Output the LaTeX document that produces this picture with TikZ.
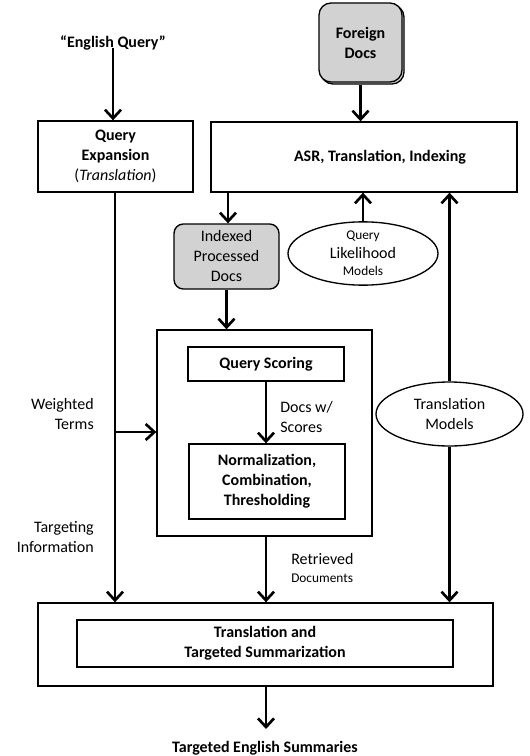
\documentclass[tikz,border=0pt]{standalone}
\usepackage{fontspec}
\setmainfont{Carlito}
\usetikzlibrary{arrows.meta,shapes.geometric}
\newcommand\pxu{0.75pt}
\tikzset{
  base/.style={font=\fontsize{12}{15}\selectfont, align=center, inner sep=0pt},
  box/.style={base, draw, line width=1pt, rectangle},
  gbox/.style={base, draw, line width=1pt, rectangle, rounded corners=7pt, fill=gray!35},
  oval/.style={base, draw, line width=1pt, ellipse},
  lbl/.style={base},
  conn/.style={line width=2pt, -{Straight Barb[length=6.5pt,width=12pt,line width=2pt]}},
  plain/.style={line width=2pt}
}
\begin{document}
\begin{tikzpicture}[x=0.75pt,y=-0.75pt]
\useasboundingbox (0,0) rectangle (529,756);
% nodes
\node[lbl, font=\fontsize{12}{15}\selectfont\bfseries] (eq) at (113,43) {“English Query”};
\node[box, minimum width=155*\pxu, minimum height=71*\pxu] (qe) at (115.5,156.5)
  {\textbf{Query}\\\textbf{Expansion}\\(\textit{Translation})};
% foreign docs with shadow
\node[gbox, minimum width=83*\pxu, minimum height=79*\pxu, rounded corners=9pt] (fdsh) at (362.5,44.5) {};
\node[gbox, minimum width=83*\pxu, minimum height=79*\pxu, rounded corners=9pt, font=\fontsize{12}{15}\selectfont\bfseries] (fd) at (360.5,42.5) {Foreign\\Docs};
\node[box, minimum width=306*\pxu, minimum height=70*\pxu] (asr) at (364,157) {};
\node[lbl, font=\fontsize{12}{15}\selectfont\bfseries] (asrt) at (380,157) {ASR, Translation, Indexing};
\node[gbox, minimum width=105*\pxu, minimum height=65*\pxu] (idx) at (226.5,256.5) {Indexed\\Processed\\Docs};
\node[oval, minimum width=150*\pxu, minimum height=57*\pxu] (qlm) at (363,253.5)
  {{\fontsize{10}{12}\selectfont Query}\\[-1pt]Likelihood\\[-2pt]{\fontsize{10}{12}\selectfont Models}};
\node[oval, minimum width=147*\pxu, minimum height=64*\pxu] (tm) at (449.5,414) {Translation\\Models};
\node[box, minimum width=215*\pxu, minimum height=206*\pxu] (big) at (264.5,433) {};
\node[box, minimum width=156*\pxu, minimum height=34*\pxu, font=\fontsize{12}{15}\selectfont\bfseries] (qs) at (266,364) {Query Scoring};
\node[box, minimum width=156*\pxu, minimum height=75*\pxu, font=\fontsize{12}{15}\selectfont\bfseries] (nct) at (267,481.5) {Normalization,\\Combination,\\Thresholding};
\node[box, minimum width=455*\pxu, minimum height=83*\pxu] (outer) at (265.5,644.5) {};
\node[box, minimum width=376*\pxu, minimum height=47*\pxu, font=\fontsize{12}{15}\selectfont\bfseries] (inner) at (265,643.5) {Translation and\\Targeted Summarization};
\node[lbl, font=\fontsize{12}{15}\selectfont\bfseries] (tes) at (265,748) {Targeted English Summaries};
% labels
\node[lbl, align=right, anchor=east] (wt) at (94,414) {Weighted\\Terms};
\node[lbl, align=right, anchor=east] (ti) at (94,537) {Targeting\\Information};
\node[lbl, align=left, anchor=west] (dws) at (280,417) {Docs w/\\Scores};
\node[lbl, align=left, anchor=west] (rd) at (291,568) {Retrieved\\[-2pt]{\fontsize{10}{12}\selectfont Documents}};
% connectors
\draw[conn] (eq.south) ++(0,-3) -- (eq.south |- qe.north);
\draw[conn] (fdsh.south -| fd.south) -- (fd.south |- asr.north);
\draw[conn] (asr.south -| 228,0) -- (228,0 |- idx.north);
\draw[conn] (qlm.north) -- (qlm.north |- asr.south);
\draw[conn] (tm.north -| 449.5,0) -- (449.5,0 |- asr.south);
\draw[conn] (tm.south) -- (tm.south |- outer.north);
\draw[conn] (idx.south) -- (idx.south |- big.north);
\draw[conn] (qs.south) -- (qs.south |- nct.north);
\draw[conn] (big.south -| 266,0) -- (266,0 |- outer.north);
\draw[conn] (outer.south -| 266,0) -- (266,729);
\draw[conn] (qe.south -| 115,0) -- (115,0 |- outer.north);
\coordinate (br) at (115,432);
\draw[conn] (br) -- (br -| big.west);
\end{tikzpicture}
\end{document}
